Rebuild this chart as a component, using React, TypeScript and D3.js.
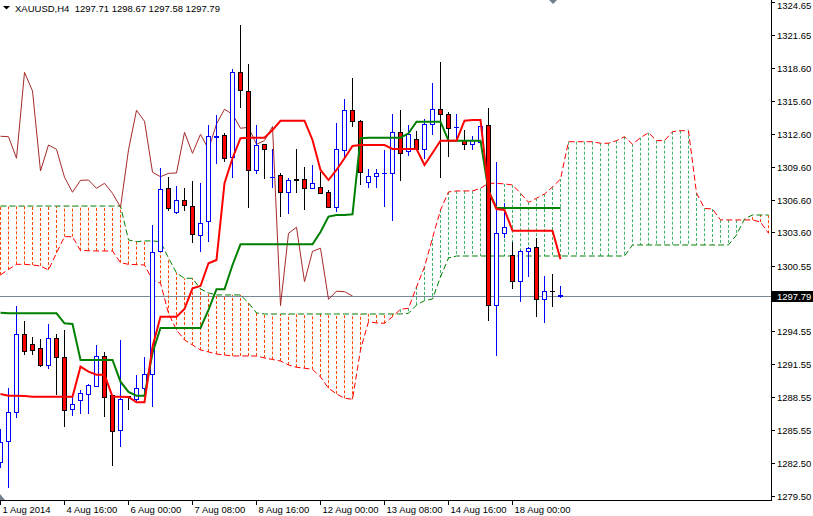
import { line, scaleLinear } from 'd3';

const symbol = 'XAUUSD,H4';

// H4 candles (bar 0 = left edge)
const opens = [
  1282.52, 1284.44, 1287.09, 1294.22, 1293.37, 1292.94, 1291.39, 1293.92, 1292.18, 1287.43,
  1288.21, 1288.76, 1289.49, 1292.27, 1288.64, 1285.47, 1288.55, 1288.28, 1289.35, 1290.65,
  1301.85, 1307.57, 1305.44, 1306.54, 1305.99, 1303.34, 1304.62, 1312.3, 1312.48, 1310.47,
  1318.24, 1316.5, 1309.22, 1311.66, 1308.58, 1308.82, 1307.27, 1308.46, 1308.42, 1307.6,
  1307.72, 1307.27, 1305.86, 1311.07, 1314.77, 1313.76, 1308.18, 1308.69, 1308.97, 1309.0,
  1312.75, 1310.98, 1312.11, 1311.2, 1313.51, 1314.86, 1314.4, 1313.15, 1312.02, 1311.66,
  1311.78, 1313.39, 1296.9, 1303.52, 1301.47, 1299.13, 1301.87, 1302.24, 1297.48, 1298.24,
  1297.71,
];
const highs = [
  1285.63, 1289.37, 1296.87, 1295.5, 1294.01, 1293.83, 1295.23, 1294.31, 1294.68, 1288.83,
  1289.19, 1289.74, 1293.28, 1292.67, 1288.73, 1293.76, 1288.64, 1290.56, 1292.18, 1304.28,
  1309.49, 1308.64, 1307.84, 1307.63, 1308.3, 1308.09, 1313.42, 1314.34, 1312.66, 1318.54,
  1322.56, 1318.97, 1313.42, 1311.68, 1311.23, 1309.0, 1308.55, 1311.23, 1309.58, 1309.76,
  1309.1, 1307.51, 1313.58, 1315.8, 1317.72, 1313.88, 1309.4, 1309.4, 1311.14, 1314.43,
  1314.77, 1313.42, 1312.87, 1313.97, 1317.29, 1319.18, 1314.61, 1314.4, 1312.96, 1312.42,
  1313.33, 1314.95, 1310.01, 1306.29, 1302.75, 1301.99, 1302.27, 1303.06, 1299.61, 1299.8,
  1298.67,
];
const lows = [
  1282.06, 1280.23, 1286.63, 1292.39, 1292.39, 1291.32, 1291.11, 1288.73, 1285.84, 1286.84,
  1287.0, 1287.0, 1289.44, 1286.75, 1282.24, 1284.01, 1287.36, 1288.12, 1288.64, 1287.66,
  1301.81, 1305.56, 1305.31, 1305.56, 1302.66, 1301.84, 1302.75, 1309.83, 1310.07, 1308.55,
  1314.95, 1305.86, 1308.91, 1308.46, 1307.69, 1304.98, 1305.31, 1307.18, 1305.68, 1307.54,
  1307.1, 1305.8, 1305.44, 1310.29, 1313.27, 1307.96, 1307.69, 1307.69, 1305.95, 1304.67,
  1308.33, 1310.61, 1311.18, 1310.31, 1312.51, 1308.55, 1310.52, 1312.05, 1311.14, 1311.14,
  1311.68, 1295.53, 1292.33, 1303.09, 1298.4, 1297.21, 1299.55, 1295.89, 1295.35, 1296.75,
  1297.58,
];
const closes = [
  1284.35, 1287.09, 1294.22, 1292.69, 1292.78, 1291.39, 1293.92, 1292.18, 1287.3, 1287.88,
  1288.89, 1289.62, 1292.27, 1288.52, 1285.38, 1288.28, 1288.46, 1289.35, 1290.63, 1301.78,
  1307.54, 1305.8, 1306.54, 1306.08, 1303.43, 1304.4, 1312.39, 1312.35, 1310.38, 1318.24,
  1316.53, 1309.22, 1311.59, 1311.2, 1308.64, 1307.27, 1308.36, 1308.39, 1307.63, 1308.09,
  1307.18, 1305.9, 1311.14, 1314.77, 1313.76, 1309.1, 1308.69, 1309.0, 1309.03, 1312.75,
  1310.83, 1312.57, 1311.2, 1313.51, 1314.86, 1314.4, 1313.12, 1313.21, 1311.66, 1311.99,
  1313.28, 1296.9, 1303.52, 1304.07, 1299.09, 1301.87, 1302.15, 1297.48, 1298.22, 1298.18,
  1297.79,
];

// Ichimoku lines
const tenkan = [
  1288.83, 1288.67, 1288.67, 1288.64, 1288.58, 1288.58, 1288.58, 1288.58, 1288.58, 1288.58,
  1291.32, 1290.86, 1290.59, 1290.59, 1288.58, 1288.58, 1288.55, 1288.07, 1288.07, 1293.15,
  1295.89, 1295.89, 1295.89, 1296.6, 1298.49, 1298.7, 1300.78, 1301.08, 1308.09, 1310.38,
  1312.21, 1312.26, 1312.26, 1312.26, 1312.96, 1313.81, 1313.81, 1313.81, 1313.81, 1312.05,
  1309.31, 1308.39, 1309.31, 1310.38, 1311.5, 1311.59, 1311.59, 1311.59, 1311.59, 1311.23,
  1311.23, 1311.23, 1311.23, 1309.76, 1310.86, 1311.99, 1311.99, 1311.99, 1313.81, 1313.88,
  1313.88, 1307.39, 1305.74, 1305.65, 1303.76, 1303.76, 1303.76, 1303.76, 1303.76, 1303.76,
  1301.14,
];
const kijun = [
  1296.26, 1296.2, 1296.2, 1296.2, 1296.2, 1296.2, 1296.2, 1296.2, 1295.29, 1295.23,
  1291.93, 1291.93, 1291.93, 1291.93, 1291.93, 1289.95, 1289.01, 1288.67, 1288.67, 1292.57,
  1294.86, 1294.86, 1294.86, 1294.86, 1294.86, 1294.86, 1296.51, 1298.4, 1298.4, 1300.62,
  1302.51, 1302.51, 1302.51, 1302.51, 1302.51, 1302.51, 1302.51, 1302.51, 1302.51, 1302.51,
  1303.64, 1305.04, 1305.19, 1305.19, 1305.26, 1312.21, 1312.26, 1312.26, 1312.26, 1312.26,
  1312.26, 1312.66, 1313.72, 1313.72, 1313.72, 1313.72, 1311.99, 1311.99, 1311.99, 1311.99,
  1311.99, 1307.39, 1305.83, 1305.83, 1305.83, 1305.83, 1305.83, 1305.83, 1305.83, 1305.83,
  1305.83,
];
// senkou spans, already shifted 26 bars forward (97 bars)
const spanA = [
  1299.71, 1300.21, 1300.68, 1300.68, 1300.62, 1300.53, 1300.16, 1301.72, 1303.21, 1303.21,
  1301.93, 1301.93, 1301.9, 1301.9, 1301.9, 1300.83, 1300.68, 1300.65, 1300.62, 1299.25,
  1298.95, 1296.2, 1294.68, 1293.76, 1293.31, 1292.85, 1292.67, 1292.48, 1292.39, 1292.3,
  1292.3, 1292.3, 1292.3, 1292.12, 1291.98, 1291.84, 1291.48, 1291.27, 1291.18, 1291.08,
  1290.38, 1289.35, 1288.83, 1288.43, 1288.34, 1292.86, 1295.44, 1295.32, 1295.29, 1295.89,
  1296.57, 1296.66, 1298.61, 1300.44, 1303.09, 1305.65, 1307.3, 1307.39, 1307.39, 1307.39,
  1307.63, 1308.09, 1308.09, 1308.03, 1307.94, 1307.18, 1306.35, 1306.72, 1307.11, 1307.75,
  1308.48, 1311.89, 1311.89, 1311.89, 1311.89, 1311.75, 1311.75, 1311.99, 1312.35, 1311.66,
  1312.26, 1312.72, 1311.99, 1311.99, 1312.81, 1312.9, 1312.9, 1307.2, 1305.8, 1305.74,
  1304.74, 1304.74, 1304.74, 1304.74, 1304.74, 1304.55, 1303.52,
];
const spanB = [
  1306.01, 1306.01, 1306.01, 1306.01, 1306.01, 1306.01, 1306.01, 1306.01, 1306.01, 1306.01,
  1306.01, 1306.01, 1306.01, 1306.01, 1306.01, 1306.01, 1302.91, 1302.75, 1302.82, 1302.82,
  1302.75, 1301.26, 1299.89, 1299.4, 1299.4, 1298.43, 1298.06, 1297.88, 1297.88, 1297.88,
  1297.88, 1297.15, 1296.23, 1296.14, 1296.14, 1296.14, 1296.14, 1296.14, 1296.14, 1296.14,
  1296.14, 1296.14, 1296.14, 1296.14, 1296.14, 1296.14, 1296.14, 1296.14, 1296.14, 1296.14,
  1296.14, 1296.2, 1296.96, 1297.36, 1297.51, 1299.52, 1301.26, 1301.44, 1301.44, 1301.44,
  1301.44, 1301.44, 1301.44, 1301.44, 1301.44, 1301.44, 1301.44, 1301.44, 1301.44, 1301.44,
  1301.44, 1301.44, 1301.44, 1301.44, 1301.44, 1301.44, 1301.44, 1301.44, 1301.44, 1302.45,
  1302.45, 1302.45, 1302.45, 1302.45, 1302.45, 1302.45, 1302.45, 1302.45, 1302.45, 1302.45,
  1302.45, 1302.45, 1303.36, 1304.83, 1305.19, 1305.19, 1305.19,
];

const priceTicks = [
  1324.65, 1321.65, 1318.6, 1315.6, 1312.6, 1309.6, 1306.6, 1303.6, 1300.55, 1294.55,
  1291.55, 1288.55, 1285.55, 1282.5, 1279.5,
];
const timeLabels = [
  '1 Aug 2014', '4 Aug 16:00', '6 Aug 00:00', '7 Aug 08:00', '8 Aug 16:00',
  '12 Aug 00:00', '13 Aug 08:00', '14 Aug 16:00', '18 Aug 00:00',
];
const SHIFT = 26;

export default function App() {
  const width = 813;
  const height = 516;
  const right = 771;
  const bottom = 500;
  const font = "'Liberation Sans', Arial, sans-serif";

  const x = scaleLinear().domain([0, 96]).range([0.5, 768.5]);
  const y = scaleLinear().domain([1279.13, 1324.85]).range([bottom, 0]);

  const path = line<number>()
    .x((_, i) => x(i))
    .y((d) => y(d));

  const chikou = closes.slice(SHIFT);
  const last = closes.length - 1;
  const lastClose = closes[last];
  const lastY = Math.round(y(lastClose));
  const header = `${symbol}  ${opens[last].toFixed(2)} ${highs[last].toFixed(2)} ${lows[last].toFixed(2)} ${lastClose.toFixed(2)}`;

  return (
    <svg
      width={width}
      height={height}
      style={{ position: 'absolute', left: 0, top: 0, background: '#fff' }}
      fontFamily={font}
      fontSize={9.5}>
      <defs>
        <clipPath id='plot'>
          <rect x={0} y={0} width={right} height={bottom} />
        </clipPath>
      </defs>
      <rect width={width} height={height} fill='#fff' />

      <g clipPath='url(#plot)'>
        {/* current price line */}
        <line x1={0} x2={right} y1={lastY + 0.5} y2={lastY + 0.5} stroke='#778899' />

        {/* kumo hatching */}
        <g strokeDasharray='3,2'>
          {spanA.map((a, k) => (
            <line
              key={k}
              x1={x(k)}
              x2={x(k)}
              y1={y(a)}
              y2={y(spanB[k])}
              stroke={a >= spanB[k] ? '#3cb371' : '#ff4500'}
            />
          ))}
        </g>
        <path d={path(spanA)} fill='none' stroke='#ff0000' strokeDasharray='6,3' />
        <path d={path(spanB)} fill='none' stroke='#008000' strokeDasharray='6,3' />

        {/* chikou */}
        <path d={path(chikou)} fill='none' stroke='#a52a2a' />

        {/* candles */}
        <g shapeRendering='crispEdges'>
          {opens.map((o, i) => {
            const c = closes[i];
            const bull = c >= o;
            const col = bull ? '#0000ff' : '#000000';
            const top = Math.min(y(o), y(c));
            return (
              <g key={i}>
                <line x1={x(i)} x2={x(i)} y1={y(highs[i])} y2={y(lows[i])} stroke={col} />
                <rect
                  x={x(i) - 2}
                  y={top}
                  width={4}
                  height={Math.abs(y(o) - y(c))}
                  fill={bull ? '#ffffff' : '#ff0000'}
                  stroke={col}
                />
              </g>
            );
          })}
        </g>

        <path d={path(kijun)} fill='none' stroke='#008000' strokeWidth={2} />
        <path d={path(tenkan)} fill='none' stroke='#ff0000' strokeWidth={2} />
      </g>

      {/* header */}
      <polygon points='3,6 10,6 6.5,9.5' fill='#000' />
      <text x={15} y={11.5} fill='#000' style={{ whiteSpace: 'pre' }}>
        {header}
      </text>
      <polygon points='549,0 557,0 553,4' fill='#708090' />
      <polygon points='0,494 0,500 5,500' fill='#708090' />

      {/* axes */}
      <g shapeRendering='crispEdges' stroke='#000'>
        <line x1={right + 0.5} x2={right + 0.5} y1={0} y2={bottom + 1} />
        <line x1={0} x2={right + 1} y1={bottom + 0.5} y2={bottom + 0.5} />
        {priceTicks.map((p) => (
          <line key={p} x1={right} x2={right + 4} y1={Math.round(y(p)) + 0.5} y2={Math.round(y(p)) + 0.5} />
        ))}
        {timeLabels.map((t, j) => (
          <line key={t} x1={x(j * 8)} x2={x(j * 8)} y1={bottom} y2={bottom + 5} />
        ))}
      </g>
      {priceTicks.map((p) => (
        <text key={p} x={right + 6} y={Math.max(Math.round(y(p)) + 4, 9)} fill='#000'>
          {p.toFixed(2)}
        </text>
      ))}
      {timeLabels.map((t, j) => (
        <text key={t} x={x(j * 8) + 2} y={513} fill='#000'>
          {t}
        </text>
      ))}

      {/* last price tag */}
      <rect x={right + 1} y={lastY - 5} width={width - right - 1} height={11} fill='#000' />
      <text x={right + 6} y={lastY + 4} fill='#fff'>
        {lastClose.toFixed(2)}
      </text>
    </svg>
  );
}
